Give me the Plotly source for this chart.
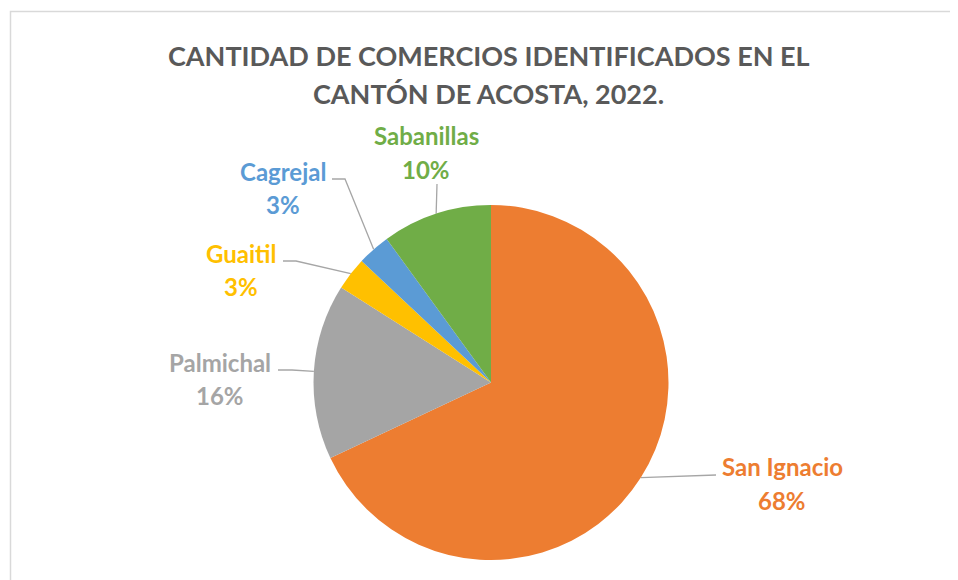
import math
import plotly.graph_objects as go

# ---- data ----
categories = ["San Ignacio", "Palmichal", "Guaitil", "Cagrejal", "Sabanillas"]
values = [68, 16, 3, 3, 10]
colors = ["#ED7D31", "#A5A5A5", "#FFC000", "#5B9BD5", "#70AD47"]
title_lines = ["CANTIDAD DE COMERCIOS IDENTIFICADOS EN EL", "CANTÓN DE ACOSTA, 2022."]

# ---- layout (pixels, in screenshot coordinates) ----
OFF = 8  # page body margin
W, H = 958 - OFF, 580 - OFF
CX, CY, R = 491.0, 382.5, 177.5
label_pos = [(782, 467), (220, 362), (241, 253), (283, 172), (426, 136)]
leader = [
    [(716, 475)],
    [(278, 370), (292, 370)],
    [(283, 261), (296, 261)],
    [(332, 179), (345, 179)],
    [(437, 184)],
]
FONT = "Lato"
LBL_SIZE = 24


def px(x):
    return (x - OFF) / W


def py(y):
    return 1 - (y - OFF) / H


fig = go.Figure(go.Pie(
    labels=categories, values=values, sort=False, direction="clockwise",
    rotation=0, marker=dict(colors=colors, line=dict(width=0)),
    textinfo="none", hoverinfo="label+percent", showlegend=False,
    domain=dict(x=[px(CX - R), px(CX + R)], y=[py(CY + R), py(CY - R)]),
))

total = sum(values)
annotations = []
shapes = []
cum = 0
for i, (cat, v) in enumerate(zip(categories, values)):
    mid = (cum + v / 2) / total * 2 * math.pi
    cum += v
    ax = CX + R * math.sin(mid)
    ay = CY - R * math.cos(mid)
    pts = leader[i] + [(ax, ay)]
    path = "M " + " L ".join(f"{px(x):.5f},{py(y):.5f}" for x, y in pts)
    shapes.append(dict(type="path", xref="paper", yref="paper", path=path,
                       line=dict(color="#A6A6A6", width=1.3), layer="below"))
    lx, ly = label_pos[i]
    pct = round(v / total * 100)
    for txt, dy in ((cat, 0), (f"{pct}%", 33)):
        annotations.append(dict(
            x=px(lx), y=py(ly + dy), xref="paper", yref="paper",
            text=f"<b>{txt}</b>", showarrow=False, xanchor="center", yanchor="middle",
            font=dict(family=FONT, size=LBL_SIZE, color=colors[i])))

for j, (t, y) in enumerate(zip(title_lines, (55, 94))):
    annotations.append(dict(
        x=px(489), y=py(y), xref="paper", yref="paper", text=f"<b>{t}</b>",
        showarrow=False, xanchor="center", yanchor="middle",
        font=dict(family=FONT, size=27, color="#595959")))

shapes.append(dict(type="rect", xref="paper", yref="paper",
                   x0=px(10.5), x1=1.05, y0=-0.05, y1=py(11.5),
                   line=dict(color="#D9D9D9", width=1.5), fillcolor="rgba(0,0,0,0)",
                   layer="below"))

fig.update_layout(
    width=W, height=H, margin=dict(l=0, r=0, t=0, b=0),
    paper_bgcolor="white", plot_bgcolor="white",
    annotations=annotations, shapes=shapes,
)
fig.write_html("out.html")
